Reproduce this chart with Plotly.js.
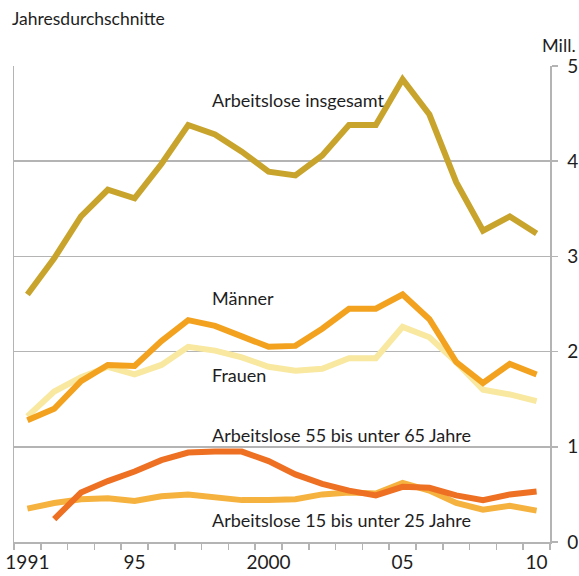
<!DOCTYPE html>
<html>
<head>
<meta charset="utf-8">
<script src="https://cdn.plot.ly/plotly-3.0.1.min.js"></script>
<style>
  html, body { margin: 0; padding: 0; background: #fff; }
  #chart { width: 579px; height: 576px; }
</style>
</head>
<body>
<div id="chart"></div>
<script>
// Arbeitslose, Jahresdurchschnitte in Mill.
const years = [1991, 1992, 1993, 1994, 1995, 1996, 1997, 1998, 1999, 2000,
  2001, 2002, 2003, 2004, 2005, 2006, 2007, 2008, 2009, 2010];

const insgesamt = [2.60, 2.98, 3.42, 3.70, 3.61, 3.97, 4.38, 4.28, 4.10, 3.89,
  3.85, 4.06, 4.38, 4.38, 4.86, 4.49, 3.78, 3.27, 3.42, 3.24];
const maenner = [1.28, 1.40, 1.69, 1.86, 1.85, 2.11, 2.33, 2.27, 2.16, 2.05,
  2.06, 2.24, 2.45, 2.45, 2.60, 2.34, 1.89, 1.67, 1.87, 1.76];
const frauen = [1.32, 1.58, 1.73, 1.84, 1.76, 1.86, 2.05, 2.01, 1.94, 1.84,
  1.80, 1.82, 1.93, 1.93, 2.26, 2.15, 1.89, 1.60, 1.55, 1.48];
const alter55 = [null, 0.24, 0.52, 0.64, 0.74, 0.86, 0.94, 0.95, 0.95, 0.85,
  0.71, 0.61, 0.54, 0.49, 0.58, 0.57, 0.49, 0.44, 0.50, 0.53];
const alter15 = [0.35, 0.41, 0.45, 0.46, 0.43, 0.48, 0.50, 0.47, 0.44, 0.44,
  0.45, 0.50, 0.52, 0.51, 0.62, 0.54, 0.41, 0.34, 0.38, 0.33];

const tickYears = [1991, 1995, 2000, 2005, 2010];
const tickLabels = ["1991", "95", "2000", "05", "10"];

const FONT = "Lato, 'Open Sans', sans-serif";
const GRID = "#b4b4b4";
const INK = "#1e1e1e";

function line(y, color) {
  return {
    x: years,
    y,
    type: "scatter",
    mode: "lines",
    line: { color, width: 6 },
    hoverinfo: "skip",
  };
}

// order: lower lines first, so darker ones sit on top
const data = [
  line(alter15, "#f6b23e"),
  line(alter55, "#ee7023"),
  line(frauen, "#f8e8a0"),
  line(maenner, "#f2a21f"),
  line(insgesamt, "#c8a42d"),
];

function label(text, x, y) {
  return {
    text,
    x,
    y,
    xref: "x",
    yref: "y",
    xanchor: "left",
    yanchor: "middle",
    showarrow: false,
    font: { family: FONT, size: 18, color: INK },
  };
}

const layout = {
  width: 579,
  height: 576,
  margin: { t: 66, r: 29, l: 14, b: 34 },
  paper_bgcolor: "#fff",
  plot_bgcolor: "#fff",
  showlegend: false,
  font: { family: FONT, size: 18, color: INK },
  xaxis: {
    range: [1990.5, 2010.5],
    tickmode: "array",
    tickvals: tickYears,
    ticktext: tickLabels,
    ticks: "",
    ticklabelstandoff: 3,
    showgrid: false,
    zeroline: false,
    showline: true,
    linecolor: GRID,
    linewidth: 1.5,
    tickfont: { family: FONT, size: 19, color: INK },
    minor: {
      tick0: 1990.5,
      dtick: 1,
      ticks: "outside",
      ticklen: 6,
      tickcolor: GRID,
      tickwidth: 1.5,
      showgrid: false,
    },
  },
  yaxis: {
    side: "right",
    range: [0, 5],
    tickvals: [0, 1, 2, 3, 4, 5],
    ticks: "outside",
    ticklen: 6,
    tickcolor: GRID,
    tickwidth: 1.5,
    ticklabelstandoff: 6,
    showgrid: true,
    gridcolor: GRID,
    gridwidth: 1.5,
    zeroline: false,
    showline: true,
    mirror: true,
    linecolor: GRID,
    linewidth: 1.5,
    tickfont: { family: FONT, size: 19, color: INK },
  },
  annotations: [
    {
      text: "Jahresdurchschnitte",
      xref: "paper",
      yref: "paper",
      x: 0,
      y: 1,
      xshift: -4,
      yshift: 48,
      xanchor: "left",
      yanchor: "middle",
      showarrow: false,
      font: { family: FONT, size: 17.5, color: INK },
    },
    {
      text: "Mill.",
      xref: "paper",
      yref: "paper",
      x: 1,
      y: 1,
      xshift: 28,
      yshift: 21,
      xanchor: "right",
      yanchor: "middle",
      showarrow: false,
      font: { family: FONT, size: 18, color: INK },
    },
    label("Arbeitslose insgesamt", 1997.8, 4.64),
    label("Männer", 1997.8, 2.56),
    label("Frauen", 1997.8, 1.75),
    label("Arbeitslose 55 bis unter 65 Jahre", 1997.8, 1.12),
    label("Arbeitslose 15 bis unter 25 Jahre", 1997.8, 0.23),
  ],
};

Plotly.newPlot("chart", data, layout, { displayModeBar: false, staticPlot: true });
</script>
</body>
</html>
